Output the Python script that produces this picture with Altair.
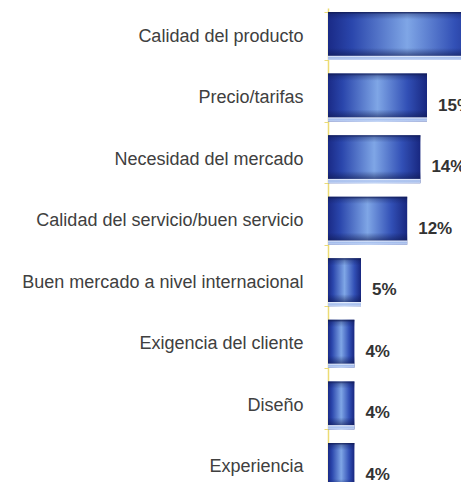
import altair as alt
import pandas as pd

categories = [
    "Calidad del producto",
    "Precio/tarifas",
    "Necesidad del mercado",
    "Calidad del servicio/buen servicio",
    "Buen mercado a nivel internacional",
    "Exigencia del cliente",
    "Diseño",
    "Experiencia",
]
values = [24, 15, 14, 12, 5, 4, 4, 4]
labels = ["24%", "15%", "14%", "12%", "5%", "4%", "4%", "4%"]

df = pd.DataFrame({"cat": categories, "val": values, "lab": labels})

hgrad = {
    "gradient": "linear",
    "x1": 0, "x2": 1, "y1": 0, "y2": 0,
    "stops": [
        {"offset": 0.0, "color": "#1a2a86"},
        {"offset": 0.15, "color": "#2a46ac"},
        {"offset": 0.5, "color": "#7fa6e6"},
        {"offset": 0.8, "color": "#3250b6"},
        {"offset": 1.0, "color": "#182780"},
    ],
}
vgrad = {
    "gradient": "linear",
    "x1": 0, "x2": 0, "y1": 0, "y2": 1,
    "stops": [
        {"offset": 0.0, "color": "rgba(15,25,80,0.9)"},
        {"offset": 0.05, "color": "rgba(15,25,80,0.3)"},
        {"offset": 0.15, "color": "rgba(15,25,80,0)"},
        {"offset": 0.75, "color": "rgba(15,25,80,0)"},
        {"offset": 0.9, "color": "rgba(15,25,80,0.55)"},
        {"offset": 0.92, "color": "rgba(235,242,255,0.95)"},
        {"offset": 0.95, "color": "rgba(170,195,240,0.95)"},
        {"offset": 1.0, "color": "rgba(205,220,248,0.95)"},
    ],
}

xscale = alt.Scale(domain=[0, 20.15], nice=False, zero=True)
yscale = alt.Scale(paddingInner=0.22, paddingOuter=0.065, range=[0, 487])

y_enc = alt.Y(
    "cat:N",
    sort=categories,
    scale=yscale,
    title=None,
    axis=alt.Axis(
        labelFont="Liberation Sans",
        labelFontSize=18,
        labelColor="#404040",
        labelPadding=21,
        domainColor="#ecdc74",
        domainWidth=1.5,
        tickColor="#ecdc74",
        tickSize=4,
        tickBand="extent",
        labelLimit=400,
    ),
)

base = alt.Chart(df)

bars = base.mark_bar(color=hgrad, clip=True).encode(
    x=alt.X("val:Q", scale=xscale, axis=None),
    y=y_enc,
)
overlay = base.mark_bar(color=vgrad, clip=True).encode(
    x=alt.X("val:Q", scale=xscale, axis=None),
    y=y_enc,
)
text = base.mark_text(
    align="left", baseline="middle", dx=11, dy=8,
    font="Liberation Sans", fontSize=17, fontWeight="bold",
    color="#333333", clip=True,
).encode(
    x=alt.X("val:Q", scale=xscale, axis=None),
    y=y_enc,
    text="lab:N",
)

chart = (
    alt.layer(bars, overlay, text)
    .properties(
        width=133,
        height=474,
        autosize=alt.AutoSizeParams(type="none"),
        padding={"left": 320, "top": 0, "right": 0, "bottom": 0},
        background="white",
    )
    .configure_view(stroke=None)
)

chart.save("out.html", embed_options={"renderer": "svg", "actions": False})
